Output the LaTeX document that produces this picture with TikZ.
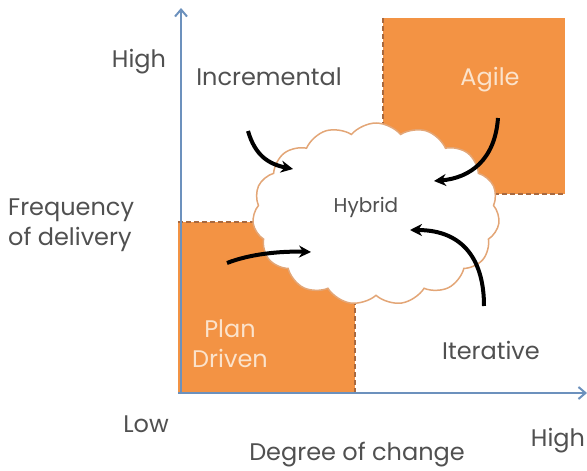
\documentclass[tikz,border=0pt]{standalone}
\usepackage{fontspec}
\setmainfont{Poppins}
\usetikzlibrary{arrows.meta,positioning,calc,shapes.symbols}
\definecolor{orng}{HTML}{F39344}
\definecolor{brwn}{HTML}{A8693F}
\definecolor{axisblue}{HTML}{6C91BD}
\definecolor{txtgray}{HTML}{505050}
\definecolor{paleorng}{HTML}{FBE3CC}
\definecolor{cloudline}{HTML}{E3A677}

\begin{document}
\begin{tikzpicture}[x=1pt,y=-1pt]
    \tikzstyle{quad}=[fill=orng,draw=none,inner sep=0pt]
    \tikzstyle{edge}=[draw=brwn,dashed,line width=1.8pt,dash pattern=on 5pt off 3pt]
    \tikzstyle{txt}=[text=txtgray,font=\fontsize{24}{30}\selectfont,inner sep=0pt]
    \tikzstyle{pale}=[txt,text=paleorng]
    \tikzstyle{flow}=[-{Stealth[length=12pt,width=12pt]},line width=4pt,black]
    \tikzstyle{axis}=[-{Straight Barb[length=7pt,width=12pt]},line width=2pt,draw=axisblue]

    \useasboundingbox (0,0) rectangle (587,471);

    % the two corner regions
    \node[quad,minimum width=177pt,minimum height=171pt] at (266.5,307.5) (plan) {};
    \node[quad,minimum width=182pt,minimum height=176pt] at (474,106) (agile) {};
    \draw[edge] (plan.north west) -- (plan.north east) -- (plan.south east);
    \draw[edge] (agile.north west) -- (agile.south west) -- (agile.south east);

    \node[cloud,cloud puffs=15,cloud puff arc=100,draw=cloudline,fill=white,line width=1.5pt,
          minimum width=247pt,minimum height=182pt,inner sep=0pt] at (376,214) (hybrid) {};
    \node[txt,font=\fontsize{20}{24}\selectfont] at (366,207) (hybridtxt) {Hybrid};

    % arrows into the cloud
    \coordinate (incS) at (248,131);
    \coordinate (incE) at (293,169);
    \coordinate (agiS) at (498,118);
    \coordinate (agiE) at (434,181);
    \coordinate (plnS) at (227,263);
    \coordinate (plnE) at (311,252);
    \coordinate (itrS) at (484,306);
    \coordinate (itrE) at (410,230);
    \draw[flow] (incS) .. controls (255,155) and (268,164) .. (incE);
    \draw[flow] (agiS) .. controls (495,160) and (470,178) .. (agiE);
    \draw[flow] (plnS) .. controls (250,254) and (280,251) .. (plnE);
    \draw[flow] (itrS) .. controls (484,262) and (465,230) .. (itrE);

    % axes
    \coordinate (origin) at (181,394);
    \coordinate (ytop) at (181,8);
    \coordinate (xend) at (587,393);
    \draw[axis] (origin) -- (ytop);
    \draw[axis] (178,393) -- (xend);

    % labels
    \node[txt] at (139,62) (yhigh) {High};
    \node[txt] at (269,77) (incr) {Incremental};
    \node[pale] at (490,80) (agiletxt) {Agile};
    \node[txt,align=left,anchor=west] at (8,225) (ylabel) {Frequency\\of delivery};
    \node[pale,align=center] at (230,344) (plantxt) {Plan\\Driven};
    \node[txt] at (491,350) (iter) {Iterative};
    \node[txt] at (146,424) (low) {Low};
    \node[txt] at (357,455) (xlabel) {Degree of change};
    \node[txt] at (558,441) (xhigh) {High};
\end{tikzpicture}
\end{document}
